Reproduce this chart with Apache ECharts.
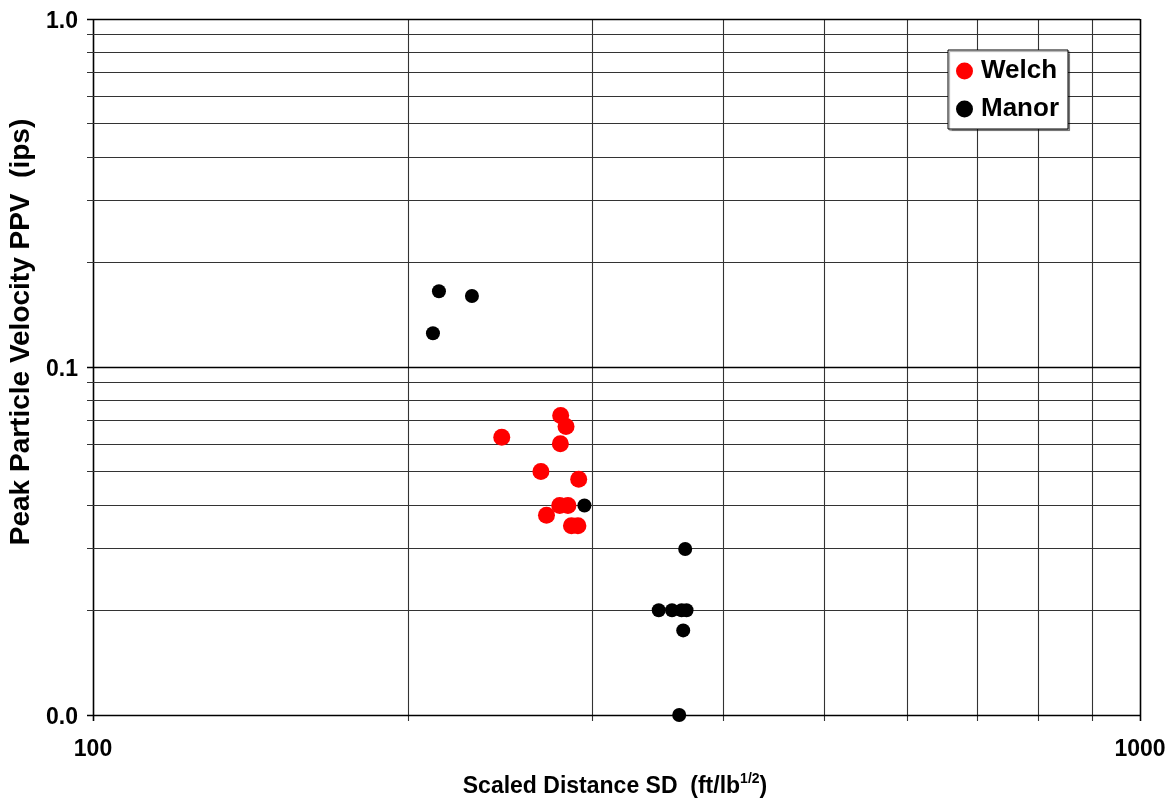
<!DOCTYPE html>
<html>
<head>
<meta charset="utf-8">
<script src="https://cdn.jsdelivr.net/npm/echarts@6/dist/echarts.min.js"></script>
<style>
  html, body { margin: 0; padding: 0; background: #ffffff; }
  #chart { width: 1171px; height: 805px; }
</style>
</head>
<body>
<div id="chart"></div>
<script>
// Scaled distance (ft/lb^1/2) and peak particle velocity (ips) per blast
const welchSD  = [279.7, 283.0, 245.7, 279.5, 267.8, 291.0, 279.1, 284.2, 271.1, 286.4, 290.5];
const welchPPV = [0.0726, 0.0675, 0.0628, 0.0602, 0.0501, 0.0476, 0.040, 0.040, 0.0375, 0.035, 0.035];
const manorSD  = [214.0, 230.1, 211.2, 294.7, 367.8, 347.0, 357.3, 364.9, 368.9, 366.2, 363.0];
const manorPPV = [0.165, 0.160, 0.125, 0.040, 0.030, 0.020, 0.020, 0.020, 0.020, 0.0175, 0.010];

const seriesNames = ['Welch', 'Manor'];

// Axis ranges and log-grid positions
const xRange = [100, 1000];
const yRange = [0.01, 1];
const xGridValues = [100, 200, 300, 400, 500, 600, 700, 800, 900, 1000];
const yGridValues = [0.01, 0.02, 0.03, 0.04, 0.05, 0.06, 0.07, 0.08, 0.09,
                     0.1, 0.2, 0.3, 0.4, 0.5, 0.6, 0.7, 0.8, 0.9, 1];
const xMajor = [100, 1000];
const yMajor = [0.01, 0.1, 1];

const FONT = "'Liberation Sans', Arial, Helvetica, sans-serif";
const TICK = 6;

function zip(a, b) { return a.map((v, i) => [v, b[i]]); }
function crisp(p) { return Math.round(p - 0.5) + 0.5; }

// Grid lines that run across the plot and poke out past the left/bottom axis as ticks
function gridSeries(values, isX) {
  return {
    type: 'custom',
    silent: true,
    clip: false,
    z: 1,
    animation: false,
    data: values.map(v => isX ? [v, yRange[0]] : [xRange[0], v]),
    encode: { x: 0, y: 1 },
    renderItem: function (params, api) {
      const v = api.value(isX ? 0 : 1);
      const major = (isX ? xMajor : yMajor).some(m => Math.abs(Math.log10(m) - Math.log10(v)) < 1e-6);
      let x1, y1, x2, y2;
      if (isX) {
        const a = api.coord([v, yRange[0]]);
        const b = api.coord([v, yRange[1]]);
        x1 = x2 = crisp(a[0]);
        y1 = a[1] + TICK; y2 = b[1];
      } else {
        const a = api.coord([xRange[0], v]);
        const b = api.coord([xRange[1], v]);
        y1 = y2 = crisp(a[1]);
        x1 = a[0] - TICK; x2 = b[0];
      }
      return {
        type: 'line',
        shape: { x1: x1, y1: y1, x2: x2, y2: y2 },
        style: { stroke: major ? '#000000' : '#333333', lineWidth: major ? 1.6 : 1.1 }
      };
    }
  };
}

const chart = echarts.init(document.getElementById('chart'), null, { renderer: 'canvas' });

chart.setOption({
  backgroundColor: '#ffffff',
  animation: false,
  textStyle: { fontFamily: FONT },
  grid: { left: 93, right: 31, top: 19, bottom: 90, containLabel: false },
  xAxis: {
    type: 'log',
    logBase: 10,
    min: xRange[0],
    max: xRange[1],
    axisLine: { show: false },
    axisTick: { show: false },
    splitLine: { show: false },
    axisLabel: {
      margin: 23,
      fontSize: 23,
      fontWeight: 'bold',
      color: '#000000',
      fontFamily: FONT,
      formatter: v => String(Math.round(v))
    }
  },
  yAxis: {
    type: 'log',
    logBase: 10,
    min: yRange[0],
    max: yRange[1],
    axisLine: { show: false },
    axisTick: { show: false },
    splitLine: { show: false },
    axisLabel: {
      margin: 15,
      color: '#000000',
      formatter: v => '{v|' + Number(v).toFixed(1) + '}',
      rich: {
        v: { fontSize: 23, fontWeight: 'bold', fontFamily: FONT, color: '#000000', padding: [6, 0, 0, 0] }
      }
    }
  },
  legend: {
    data: seriesNames,
    orient: 'vertical',
    left: 948,
    top: 50,
    padding: [8, 9, 7, 8],
    itemGap: 12,
    itemWidth: 17,
    itemHeight: 17,
    icon: 'circle',
    backgroundColor: '#ffffff',
    borderColor: '#000000',
    borderWidth: 1,
    borderRadius: 0,
    shadowColor: 'rgba(0,0,0,0.35)',
    shadowOffsetX: 1.5,
    shadowOffsetY: 1.5,
    shadowBlur: 1,
    selectedMode: false,
    textStyle: { fontSize: 26, fontWeight: 'bold', color: '#000000', fontFamily: FONT, lineHeight: 25, padding: [0, 0, 0, 3] }
  },
  graphic: [
    {
      type: 'text',
      x: 615,
      y: 785,
      silent: true,
      style: {
        text: '{a|Scaled Distance SD  (ft/lb}{s|1/2}{a|)}',
        align: 'center',
        verticalAlign: 'middle',
        fill: '#000000',
        rich: {
          a: { fontSize: 23, fontWeight: 'bold', fontFamily: FONT, fill: '#000000', lineHeight: 26, verticalAlign: 'bottom' },
          s: { fontSize: 14, fontWeight: 'bold', fontFamily: FONT, fill: '#000000', lineHeight: 26, verticalAlign: 'top' }
        }
      }
    },
    {
      type: 'text',
      x: 21,
      y: 332,
      rotation: Math.PI / 2,
      silent: true,
      style: {
        text: 'Peak Particle Velocity PPV  (ips)',
        align: 'center',
        verticalAlign: 'middle',
        fontSize: 28,
        fontWeight: 'bold',
        fontFamily: FONT,
        fill: '#000000'
      }
    }
  ],
  series: [
    gridSeries(xGridValues, true),
    gridSeries(yGridValues, false),
    {
      name: seriesNames[0],
      type: 'scatter',
      z: 3,
      symbol: 'circle',
      symbolSize: 17,
      itemStyle: { color: '#ff0000', opacity: 1 },
      emphasis: { disabled: true },
      data: zip(welchSD, welchPPV)
    },
    {
      name: seriesNames[1],
      type: 'scatter',
      z: 4,
      symbol: 'circle',
      symbolSize: 14,
      itemStyle: { color: '#000000', opacity: 1 },
      emphasis: { disabled: true },
      data: zip(manorSD, manorPPV)
    }
  ]
});
</script>
</body>
</html>
